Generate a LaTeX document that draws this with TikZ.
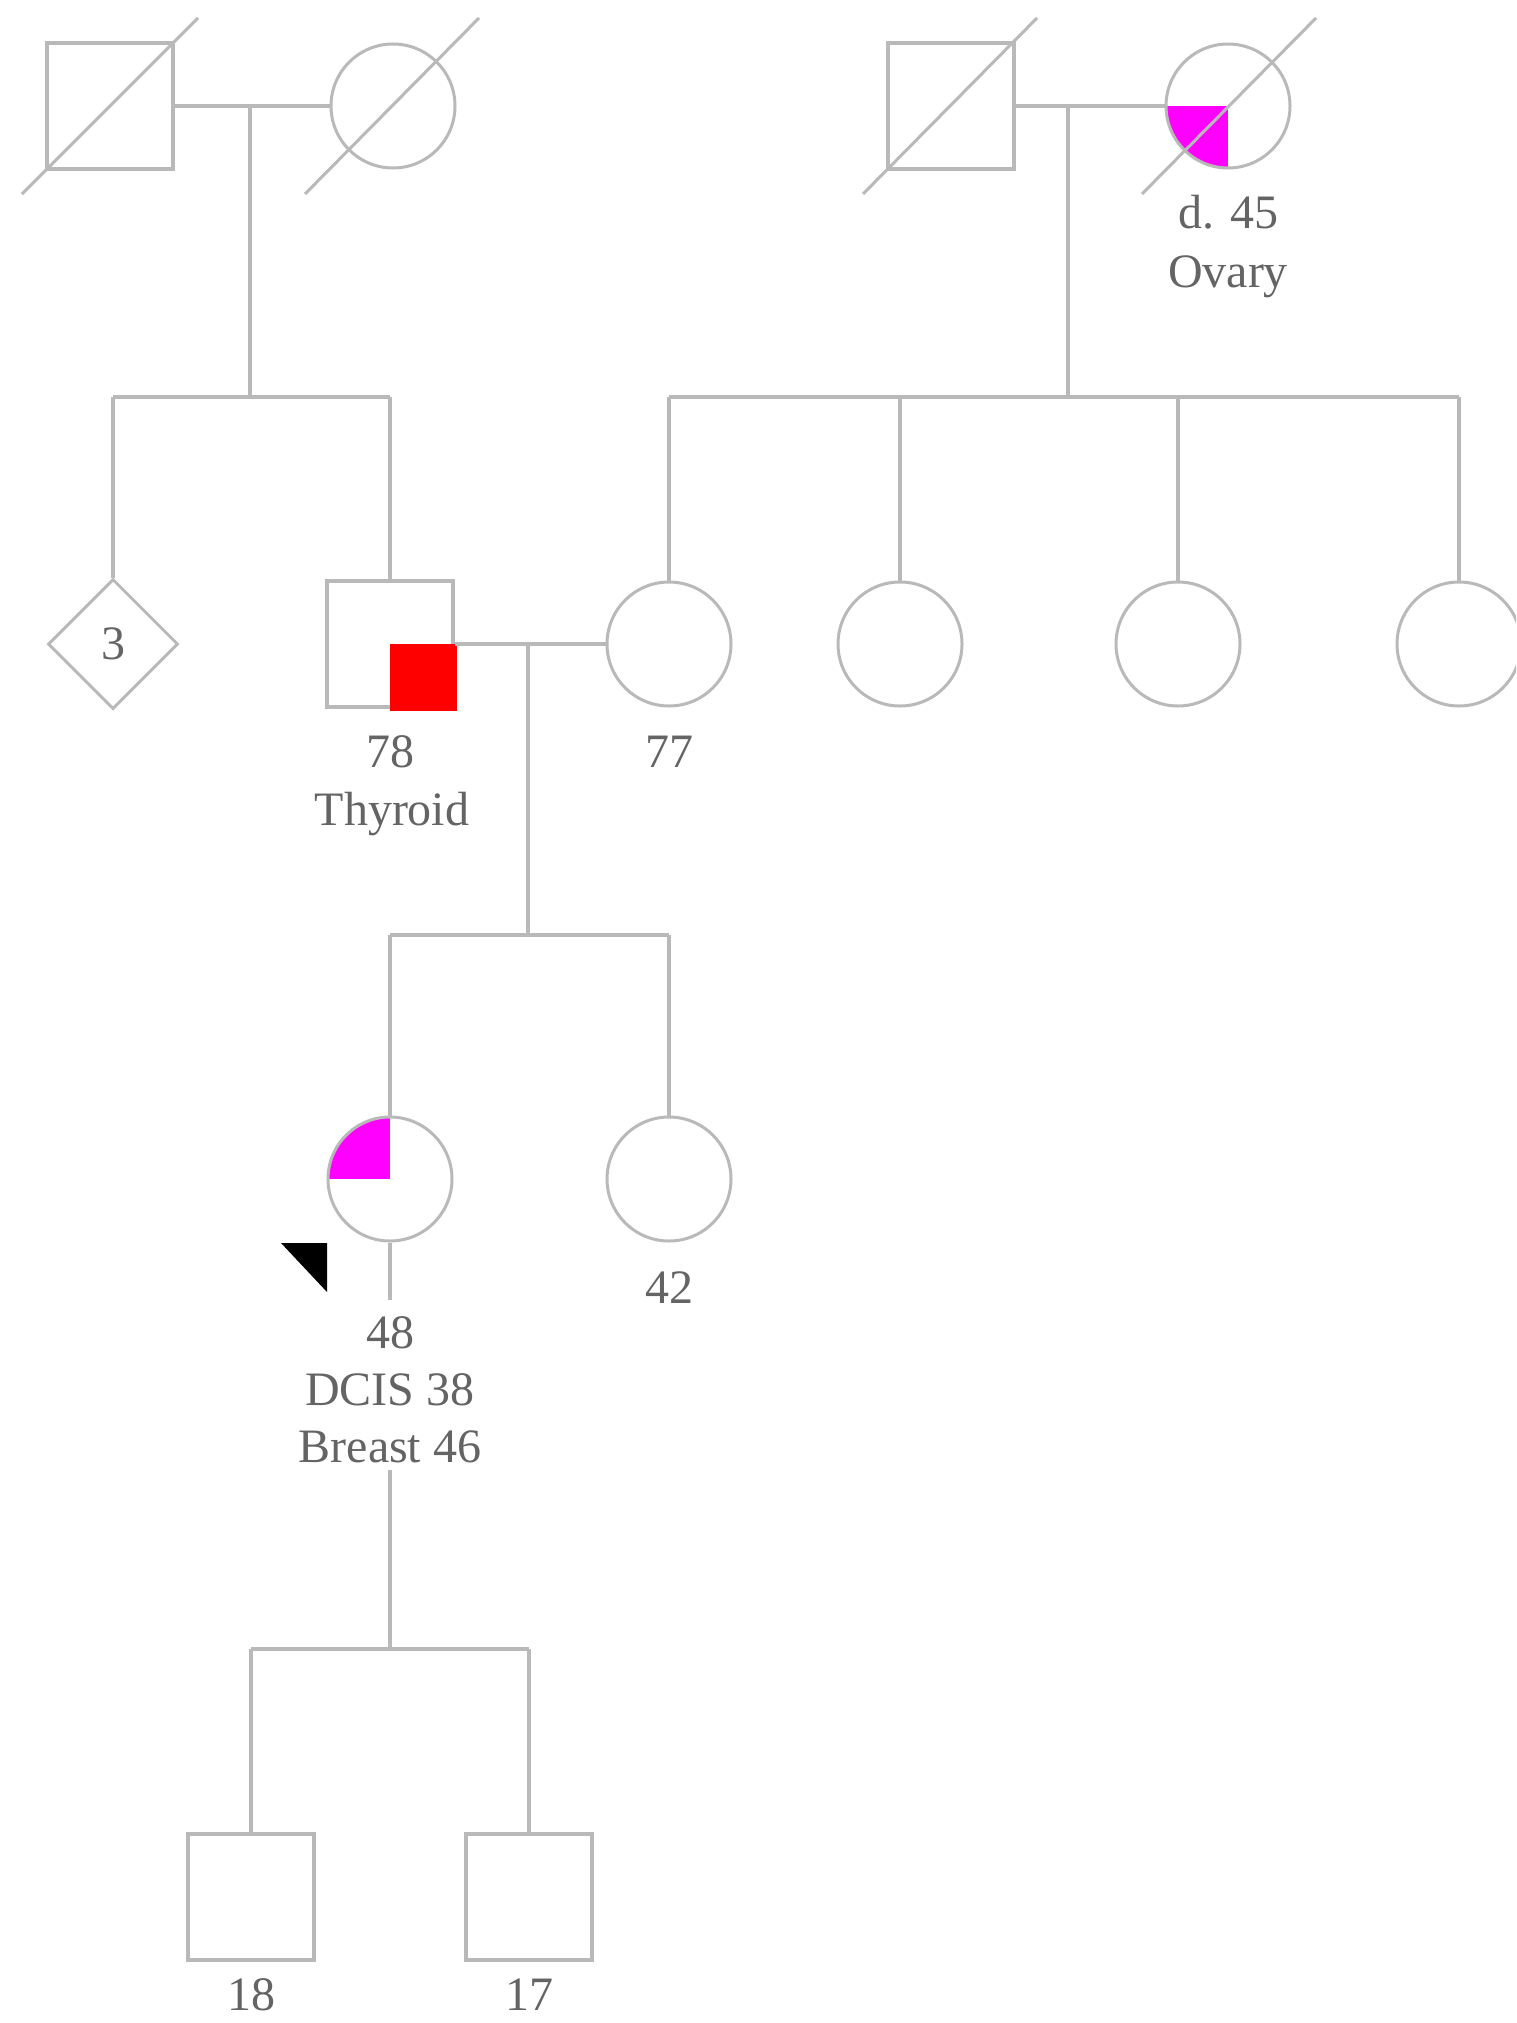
\documentclass[tikz,border=0pt]{standalone}
\usepackage{fontspec}
\setmainfont{Liberation Serif}
\usetikzlibrary{shapes.geometric}
\definecolor{lineg}{RGB}{185,185,185}
\definecolor{textg}{RGB}{100,100,100}
\definecolor{affmag}{RGB}{255,0,255}
\definecolor{affred}{RGB}{255,0,0}
\begin{document}
\begin{tikzpicture}[x=1pt,y=-1pt,
  line/.style={draw=lineg, line width=3.5pt},
  male/.style={rectangle, draw=lineg, line width=3.5pt, fill=white, minimum size=126pt, inner sep=0pt},
  female/.style={circle, draw=lineg, line width=3pt, fill=white, minimum size=124pt, inner sep=0pt},
  unknown/.style={diamond, aspect=1, draw=lineg, line width=3pt, fill=white, minimum size=130pt, inner sep=0pt, text=textg, font=\fontsize{48}{58}\selectfont},
  lbl/.style={text=textg, font=\fontsize{48}{58}\selectfont, inner sep=0pt, anchor=base},
  dead/.style={draw=lineg, line width=3pt},
  ll/.style={path picture={\fill[affmag] (path picture bounding box.center) rectangle (path picture bounding box.south west);}},
  ul/.style={path picture={\fill[affmag] (path picture bounding box.center) rectangle (path picture bounding box.north west);}},
]
\useasboundingbox (0,0) rectangle (1516,2023);
\clip (0,0) rectangle (1516,2023);
\fill[white] (0,0) rectangle (1516,2023);

% ---------- generation I ----------
\node[male] (gf1) at (110,106) {};
\node[female] (gm1) at (393,106) {};
\node[male] (gf2) at (951,106) {};
\node[female, ll] (gm2) at (1228,106) {};

\draw[dead] ([shift={(-88,88)}]gf1.center) -- ([shift={(88,-88)}]gf1.center);
\draw[dead] ([shift={(-88,88)}]gm1.center) -- ([shift={(86,-88)}]gm1.center);
\draw[dead] ([shift={(-88,88)}]gf2.center) -- ([shift={(86,-88)}]gf2.center);
\draw[dead] ([shift={(-86,88)}]gm2.center) -- ([shift={(88,-88)}]gm2.center);

\node[lbl] (gm2a) at (1228,228) {d. 45};
\node[lbl] (gm2b) at (1228,287) {Ovary};

\coordinate (m1) at (250,106);
\coordinate (s1) at (250,397);
\coordinate (m2) at (1068,106);
\coordinate (s2) at (1068,397);
\draw[line] (gf1.east) -- (gm1.west);
\draw[line] (gf2.east) -- (gm2.west);
\draw[line] (m1) -- (s1);
\draw[line] (m2) -- (s2);

% ---------- generation II ----------
\node[unknown] (dia) at (113,644) {3};
\node[male] (fa) at (390,644) {};
\fill[affred] (fa.center) rectangle ([shift={(1.75,1.75)}]fa.south east);
\node[female] (mo) at (669,644) {};
\node[female] (au1) at (900,644) {};
\node[female] (au2) at (1178,644) {};
\node[female] (au3) at (1459,644) {};

\draw[line] (dia.north |- s1) -- (fa.north |- s1);
\draw[line] (dia.north) -- (dia.north |- s1);
\draw[line] (fa.north) -- (fa.north |- s1);

\draw[line] (mo.north |- s2) -- (au3.north |- s2);
\draw[line] (mo.north) -- (mo.north |- s2);
\draw[line] (au1.north) -- (au1.north |- s2);
\draw[line] (au2.north) -- (au2.north |- s2);
\draw[line] (au3.north) -- (au3.north |- s2);

\node[lbl] (faa) at (390,767) {78};
\node[lbl] (fab) at (392,825) {Thyroid};
\node[lbl] (moa) at (669,767) {77};

\coordinate (m3) at (528,644);
\coordinate (s3) at (528,935);
\draw[line] (fa.east) -- (mo.west);
\draw[line] (m3) -- (s3);

% ---------- generation III ----------
\node[female, ul] (pb) at (390,1179) {};
\node[female] (si) at (669,1179) {};
\draw[line] (pb.north |- s3) -- (si.north |- s3);
\draw[line] (pb.north) -- (pb.north |- s3);
\draw[line] (si.north) -- (si.north |- s3);

\fill[black] (281,1243) -- (327,1243) -- (327,1292) -- cycle;

\coordinate (pl) at (390,1300);
\draw[line] (pb.south) -- (pl);
\node[lbl] (pba) at (390,1348) {48};
\node[lbl] (pbb) at (390,1405) {DCIS 38};
\node[lbl] (pbc) at (390,1462) {Breast 46};
\node[lbl] (sia) at (669,1303) {42};

\coordinate (pt) at (390,1470);
\coordinate (s4) at (390,1649);
\draw[line] (pt) -- (s4);

% ---------- generation IV ----------
\node[male] (so1) at (251,1897) {};
\node[male] (so2) at (529,1897) {};
\draw[line] (so1.north |- s4) -- (so2.north |- s4);
\draw[line] (so1.north) -- (so1.north |- s4);
\draw[line] (so2.north) -- (so2.north |- s4);
\node[lbl] (so1a) at (251,2010) {18};
\node[lbl] (so2a) at (529,2010) {17};
\end{tikzpicture}
\end{document}
